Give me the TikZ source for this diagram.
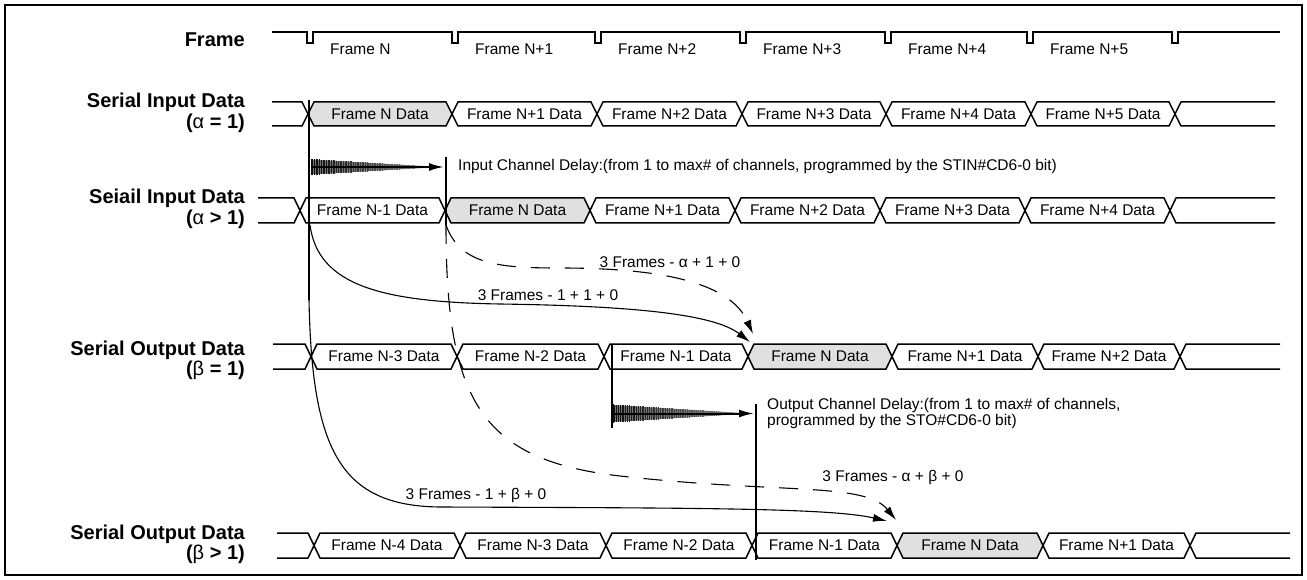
\documentclass[tikz,border=0pt]{standalone}
\usepackage{fontspec}
\setmainfont{Liberation Sans}
\usetikzlibrary{arrows.meta}
\definecolor{gcell}{gray}{0.88}
\tikzset{
  lbl/.style={font=\fontsize{20}{22}\selectfont\bfseries, anchor=east, inner sep=0pt},
  dat/.style={font=\fontsize{15.5}{17}\selectfont, inner sep=0pt},
  sig/.style={line width=1.6pt, line join=miter},
  cell/.style={line width=1.5pt, line join=miter},
  vbar/.style={line width=1.8pt},
  curv/.style={line width=1.1pt, -{Latex[length=14pt,width=8pt]}},
  dcurv/.style={curv, dash pattern=on 19pt off 15pt},
  delayarrow/.style={line width=2pt, -{Latex[length=15pt,width=8pt]}}
}
\newcommand\hexcell[5]{\draw[cell,fill=#5] (#1,{(#3+#4)/2}) -- (#1+6,#3) -- (#2-6,#3) -- (#2,{(#3+#4)/2}) -- (#2-6,#4) -- (#1+6,#4) -- cycle;}
\newcommand\rowends[6]{%
  \draw[cell] (#1,#5) -- (#2-6,#5) -- (#2,{(#5+#6)/2}) -- (#2-6,#6) -- (#1,#6);
  \draw[cell] (#4,#5) -- (#3+6,#5) -- (#3,{(#5+#6)/2}) -- (#3+6,#6) -- (#4,#6);}
\newcommand\delaywedge[4]{%
  \fill[black!55] (#1,#3-#4) -- (#2,#3-0.6) -- (#2,#3+0.6) -- (#1,#3+#4) -- cycle;
  \foreach \k in {0,...,70}{%
    \pgfmathsetmacro\xx{#1+(#2-#1)*\k/70}%
    \pgfmathsetmacro\hh{#4*(1-\k/70)+0.6}%
    \pgfmathsetmacro\cc{95-45*\k/70}%
    \draw[black!\cc, line width=0.8pt] (\xx,#3-\hh) -- (\xx,#3+\hh);}}
\begin{document}
\begin{tikzpicture}[x=1pt,y=-1pt]
\useasboundingbox (0,0) rectangle (1307,580);
\draw[line width=2.5pt] (5,5) rectangle (1302,575);

% row labels
\node[lbl] (lF) at (245,40) {Frame};
\node[lbl] (lA1) at (245,102) {Serial Input Data};
\node[lbl] (lA2) at (245,123) {({\mdseries α} = 1)};
\node[lbl] (lB1) at (245,198) {Seiail Input Data};
\node[lbl] (lB2) at (245,219) {({\mdseries α} > 1)};
\node[lbl] (lC1) at (245,350) {Serial Output Data};
\node[lbl] (lC2) at (245,370) {({\mdseries β} = 1)};
\node[lbl] (lD1) at (245,534) {Serial Output Data};
\node[lbl] (lD2) at (245,554) {({\mdseries β} > 1)};

% frame signal
\draw[sig] (272,32) foreach \p in {307,452,595,740,885,1027,1172}{ -- (\p,32) -- (\p,43) -- (\p+6,43) -- (\p+6,32)} -- (1280,32);
\foreach \p/\t [count=\i] in {307/Frame N,452/Frame N+1,595/Frame N+2,740/Frame N+3,885/Frame N+4,1027/Frame N+5}
  \node[dat,anchor=west] (f\i) at (\p+23,49) {\t};

% row A
\rowends{272}{308}{1175}{1275}{102}{126}
\foreach \a/\b/\f/\t [count=\i] in {308/452/gcell/Frame N Data,452/597/white/Frame N+1 Data,597/742/white/Frame N+2 Data,742/886/white/Frame N+3 Data,886/1031/white/Frame N+4 Data,1031/1175/white/Frame N+5 Data}{
  \hexcell{\a}{\b}{102}{126}{\f}
  \node[dat] (a\i) at ({(\a+\b)/2},114) {\t};}

% row B
\rowends{258}{300}{1170}{1275}{198}{223}
\foreach \a/\b/\f/\t [count=\i] in {300/445/white/Frame N-1 Data,445/590/gcell/Frame N Data,590/735/white/Frame N+1 Data,735/880/white/Frame N+2 Data,880/1025/white/Frame N+3 Data,1025/1170/white/Frame N+4 Data}{
  \hexcell{\a}{\b}{198}{223}{\f}
  \node[dat] (b\i) at ({(\a+\b)/2},210.5) {\t};}

% row C
\rowends{273}{311}{1180}{1280}{344}{369}
\foreach \a/\b/\f/\t [count=\i] in {311/457/white/Frame N-3 Data,457/604/white/Frame N-2 Data,604/748/white/Frame N-1 Data,748/892/gcell/Frame N Data,892/1038/white/Frame N+1 Data,1038/1180/white/Frame N+2 Data}{
  \hexcell{\a}{\b}{344}{369}{\f}
  \node[dat] (c\i) at ({(\a+\b)/2},356.5) {\t};}

% row D
\rowends{277}{314}{1190}{1290}{533}{558}
\foreach \a/\b/\f/\t [count=\i] in {314/460/white/Frame N-4 Data,460/606/white/Frame N-3 Data,606/752/white/Frame N-2 Data,752/897/white/Frame N-1 Data,897/1043/gcell/Frame N Data,1043/1190/white/Frame N+1 Data}{
  \hexcell{\a}{\b}{533}{558}{\f}
  \node[dat] (d\i) at ({(\a+\b)/2},545.5) {\t};}

% named points
\coordinate (inTop) at (309,100);
\coordinate (inBot) at (309,300);
\coordinate (inBr) at (310,225);
\coordinate (dlyTop) at (446,157);
\coordinate (dlyBot) at (446,225);
\coordinate (outTop) at (612,344);
\coordinate (outBot) at (612,428);
\coordinate (odTop) at (756,404);
\coordinate (odBot) at (756,560);
\coordinate (tipC1) at (750,342);
\coordinate (tipC2) at (753,334);
\coordinate (tipD1) at (887,521);
\coordinate (tipD2) at (896,520);

% marker lines
\draw[vbar] (inTop) -- (inBot);
\draw[vbar] (dlyTop) -- (dlyBot);
\draw[vbar] (outTop) -- (outBot);
\draw[vbar] (odTop) -- (odBot);

% delay wedges
\delaywedge{311}{430}{167}{7.5}
\draw[delayarrow] (311,167) -- (444,167);
\node[dat,anchor=west] (indly) at (458,166) {Input Channel Delay:(from 1 to max\# of channels, programmed by the STIN\#CD6-0 bit)};
\delaywedge{613}{740}{413.5}{8.5}
\draw[delayarrow] (613,413.5) -- (754,413.5);
\node[dat,anchor=west,align=left,font=\fontsize{15.5}{16}\selectfont] (outdly) at (767,413) {Output Channel Delay:(from 1 to max\# of channels,\\programmed by the STO\#CD6-0 bit)};

% connectors
\draw[curv] (inBr) .. controls (318,285) and (380,302) .. (500,304) .. controls (640,306) and (715,315) .. (tipC1);
\draw[dcurv] (dlyBot) .. controls (460,265) and (500,268) .. (560,268) .. controls (660,268) and (730,282) .. (tipC2);
\draw[dcurv] (dlyBot) .. controls (446,400) and (480,460) .. (620,476) .. controls (780,494) and (865,482) .. (tipD2);
\draw[curv] (inBot) .. controls (312,450) and (340,506) .. (440,507) .. controls (700,508) and (830,508) .. (tipD1);

% connector labels
\node[dat] (t1) at (670,262) {3 Frames - α + 1 + 0};
\node[dat] (t2) at (548,295) {3 Frames - 1 + 1 + 0};
\node[dat] (t3) at (893,477) {3 Frames - α + β + 0};
\node[dat] (t4) at (476,495) {3 Frames - 1 + β + 0};
\end{tikzpicture}
\end{document}
